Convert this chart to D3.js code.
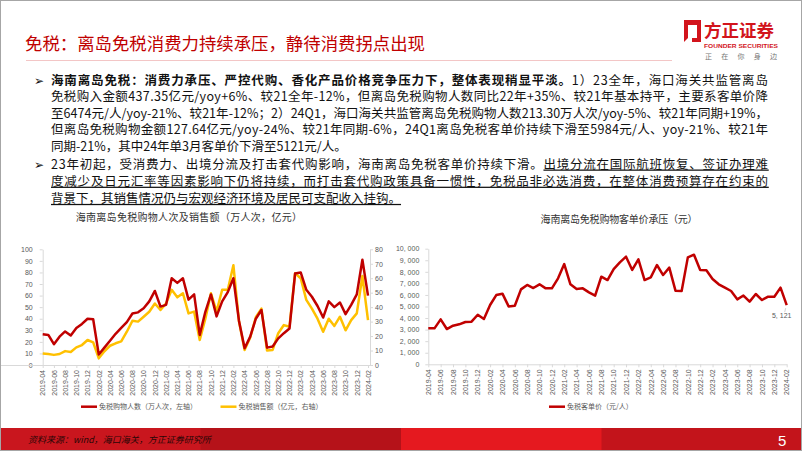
<!DOCTYPE html>
<html>
<head>
<meta charset="utf-8">
<script src="https://cdn.jsdelivr.net/npm/d3@7"></script>
<style>
  body { margin: 0; background: #fff; }
  svg { display: block; font-family: "Noto Sans CJK SC", "Noto Sans", sans-serif; }
  .num { font-family: "Liberation Sans", Arial, sans-serif; }
</style>
</head>
<body>
<div id="slide"></div>
<script>
// categories: monthly, 2019-04 .. 2024-02
const months = d3.timeMonth.range(new Date(2019, 3, 1), new Date(2024, 2, 1)).map(d3.timeFormat("%Y-%m"));

// 免税购物人数（万人次，左轴）
const shoppers = [26.5, 26, 18, 24.5, 29, 25.5, 32, 35.5, 40, 39.5,
  9, 15, 21, 27, 32, 37, 44.5, 45.5, 49, 55,
  64, 50.5, 52, 75, 71, 75, 56.5, 61, 26, 46,
  61, 42, 55, 63, 75, 38, 14.5, 24.5, 40, 47.5,
  15, 16, 23, 27.5, 31.5, 79, 80, 65, 59, 51,
  41, 55, 50, 54, 44, 52, 61, 91, 60];

// 免税销售额（亿元，右轴）
const sales = [8, 7.6, 7, 7.6, 9.6, 9, 12.2, 13.8, 17.3, 15.7,
  4.6, 9.5, 13.3, 15, 16.3, 23, 30.6, 30, 33.4, 36.8,
  42.5, 38, 42.6, 52, 46.8, 49.6, 35.7, 36.9, 17.3, 32,
  49.6, 37, 52, 52, 69, 30, 10.4, 19, 33, 39,
  10, 10.4, 22, 27.6, 26.5, 63.4, 60, 45, 39, 32,
  23, 32, 27, 33.4, 24, 31, 35.7, 61.5, 31];

// 免税客单价（元/人）
const price = [3110, 3110, 3890, 3050, 3340, 3460, 3660, 3690, 4290, 3920,
  5130, 5990, 6110, 5010, 5070, 6480, 6860, 6600, 6920, 6570,
  6570, 7440, 8670, 6920, 6510, 6570, 6220, 5940, 7580, 7290,
  8240, 8820, 9310, 8160, 9080, 7290, 7520, 8590, 7720, 8360,
  6370, 6340, 9250, 9480, 8160, 8130, 7380, 6920, 6630, 6340,
  5620, 5950, 5420, 6080, 5560, 5850, 5850, 6630, 5121];

const leftTicks = d3.range(0, 101, 10);
const rightTicks = d3.range(0, 81, 10);
const priceTicks = d3.range(0, 10001, 1000);
const monthTicks = months.filter((m, i) => i % 2 === 0);

const title = "免税：离岛免税消费力持续承压，静待消费拐点出现";
const para1 = [
  [{t: "海南离岛免税：消费力承压、严控代购、香化产品价格竞争压力下，整体表现稍显平淡。", b: true}, {t: "1）23全年，海口海关共监管离岛"}],
  [{t: "免税购入金额437.35亿元/yoy+6%、较21全年-12%，但离岛免税购物人数同比22年+35%、较21年基本持平，主要系客单价降"}],
  [{t: "至6474元/人/yoy-21%、较21年-12%；2）24Q1，海口海关共监管离岛免税购物人数213.30万人次/yoy-5%、较21年同期+19%，"}],
  [{t: "但离岛免税购物金额127.64亿元/yoy-24%、较21年同期-6%，24Q1离岛免税客单价持续下滑至5984元/人、yoy-21%、较21年"}],
  [{t: "同期-21%，其中24年单3月客单价下滑至5121元/人。"}]
];
const para2 = [
  [{t: "23年初起，受消费力、出境分流及打击套代购影响，海南离岛免税客单价持续下滑。"}, {t: "出境分流在国际航班恢复、签证办理难", u: true}],
  [{t: "度减少及日元汇率等因素影响下仍将持续，而打击套代购政策具备一惯性，免税品非必选消费，在整体消费预算存在约束的", u: true}],
  [{t: "背景下，其销售情况仍与宏观经济环境及居民可支配收入挂钩。", u: true}]
];

const RED = "#c00000", GOLD = "#ffc000", AXIS = "#d9d9d9", LABEL = "#595959";

const W = 802, H = 451;
const svg = d3.select("#slide").append("svg").attr("width", W).attr("height", H);
svg.append("rect").attr("width", W).attr("height", H).attr("fill", "#fff");

/* header */
svg.append("text").attr("x", 25).attr("y", 50).attr("fill", RED)
  .style("font-size", "17.4px").text(title);
svg.append("line").attr("x1", 26).attr("x2", 672).attr("y1", 60.5).attr("y2", 60.5)
  .attr("stroke", "#f3c6c6").attr("stroke-width", 1);

const logo = svg.append("g");
logo.append("path")
  .attr("d", "M684,20 H701 V42 H684 Z M688,25 V38 H697 V25 Z")
  .attr("fill", "#d2141c").attr("fill-rule", "evenodd");
logo.append("path").attr("d", "M684,42 L692,34 L692,42 Z").attr("fill", "#fff");
logo.append("text").attr("x", 704).attr("y", 37).attr("fill", "#d2141c")
  .attr("font-weight", 700).style("font-size", "17.5px").text("方正证券");
logo.append("text").attr("x", 704).attr("y", 47.5).attr("fill", "#d2141c")
  .attr("font-weight", 700).attr("class", "num").style("font-size", "6px")
  .attr("textLength", 74).attr("lengthAdjust", "spacingAndGlyphs").text("FOUNDER SECURITIES");
logo.append("text").attr("x", 705).attr("y", 59).attr("fill", "#777")
  .style("font-size", "7px").attr("textLength", 72).text("正在你身边");

/* bullet paragraphs */
function textLine(g, parts, x, y, width) {
  const t = g.append("text").attr("x", x).attr("y", y);
  parts.forEach(p => {
    const s = t.append("tspan").text(p.t);
    if (p.b) s.attr("font-weight", 700);
    if (p.u) s.style("text-decoration", "underline");
  });
  if (width) {
    const n = parts.reduce((a, p) => a + [...p.t].length, 0);
    const natural = t.node().getComputedTextLength();
    t.style("letter-spacing", ((width - natural) / (n - 1)) + "px");
  }
  return t;
}

const body = svg.append("g").attr("fill", "#111").style("font-size", "12.5px");
[[para1, 84.5, 16.6], [para2, 168.5, 17.2]].forEach(([para, y0, lh]) => {
  body.append("text").attr("x", 34).attr("y", y0).style("font-family", "DejaVu Sans")
    .style("font-size", "12px").text("➢");
  para.forEach((parts, i) => {
    textLine(body, parts, 51, y0 + i * lh, i < para.length - 1 ? 717 : null);
  });
});

/* axes helper */
function styleAxis(g) {
  g.selectAll(".domain").attr("stroke", AXIS);
  g.selectAll(".tick line").attr("stroke", AXIS);
  g.selectAll(".tick text").attr("fill", LABEL).attr("class", "num").style("font-size", "7px");
}
function monthAxis(g, x, y) {
  const ax = g.append("g").attr("transform", `translate(0,${y})`)
    .call(d3.axisBottom(x).tickValues(monthTicks).tickSize(3).tickSizeOuter(0));
  styleAxis(ax);
  ax.selectAll(".tick text")
    .attr("transform", "rotate(-90)").attr("text-anchor", "end")
    .attr("x", -5).attr("y", 0).attr("dy", "0.32em");
  return ax;
}
function legendItem(g, x, y, color, label) {
  g.append("line").attr("x1", x).attr("x2", x + 16).attr("y1", y).attr("y2", y)
    .attr("stroke", color).attr("stroke-width", 2.5);
  g.append("text").attr("x", x + 18).attr("y", y + 2.5).attr("fill", LABEL)
    .style("font-size", "7px").text(label);
}

/* left chart */
const c1 = svg.append("g");
const x1 = d3.scalePoint().domain(months).range([42.7, 368]);
const yL = d3.scaleLinear().domain([0, 100]).range([365, 249.3]);
const yR = d3.scaleLinear().domain([0, 80]).range([365, 249.3]);

c1.append("text").attr("x", 189).attr("y", 221).attr("text-anchor", "middle")
  .attr("fill", "#333").style("font-size", "10px").style("letter-spacing", "0.3px")
  .text("海南离岛免税购物人次及销售额（万人次，亿元）");

styleAxis(c1.append("g").attr("transform", "translate(42.7,0)")
  .call(d3.axisLeft(yL).tickValues(leftTicks).tickSizeInner(3).tickSizeOuter(0).tickPadding(7)));
styleAxis(c1.append("g").attr("transform", "translate(370,0)")
  .call(d3.axisRight(yR).tickValues(rightTicks).tickSizeInner(3).tickSizeOuter(0).tickPadding(2)));
monthAxis(c1, x1, 365).select(".domain").attr("d", "M0,0.5H370");

c1.append("path").datum(sales)
  .attr("fill", "none").attr("stroke", GOLD).attr("stroke-width", 2.5).attr("stroke-linejoin", "round")
  .attr("d", d3.line().x((d, i) => x1(months[i])).y(d => yR(d)));
c1.append("path").datum(shoppers)
  .attr("fill", "none").attr("stroke", RED).attr("stroke-width", 2.5).attr("stroke-linejoin", "round")
  .attr("d", d3.line().x((d, i) => x1(months[i])).y(d => yL(d)));

legendItem(c1, 81, 406.7, RED, "免税购物人数（万人次，左轴）");
legendItem(c1, 220.5, 406.7, GOLD, "免税销售额（亿元，右轴）");

/* right chart */
const c2 = svg.append("g");
const x2 = d3.scalePoint().domain(months).range([428.3, 786.7]);
const y2 = d3.scaleLinear().domain([0, 10000]).range([364.3, 248.7]);
const fmt = d => d3.format(",")(d).replace(",", ", ");

c2.append("text").attr("x", 619).attr("y", 223).attr("text-anchor", "middle")
  .attr("fill", "#333").style("font-size", "10px").style("letter-spacing", "-0.2px")
  .text("海南离岛免税购物客单价承压（元）");

styleAxis(c2.append("g").attr("transform", "translate(428.3,0)")
  .call(d3.axisLeft(y2).tickValues(priceTicks).tickFormat(fmt).tickSizeInner(3).tickSizeOuter(0).tickPadding(6)));
monthAxis(c2, x2, 364.3);

c2.append("path").datum(price)
  .attr("fill", "none").attr("stroke", RED).attr("stroke-width", 2.5).attr("stroke-linejoin", "round")
  .attr("d", d3.line().x((d, i) => x2(months[i])).y(d => y2(d)));

const lastI = price.length - 1;
const lx = x2(months[lastI]), ly = y2(price[lastI]);
c2.append("line").attr("x1", lx - 1).attr("y1", ly + 3).attr("x2", lx - 2).attr("y2", ly + 7)
  .attr("stroke", "#bfbfbf").attr("stroke-width", 0.7);
c2.append("text").attr("x", lx - 5).attr("y", ly + 13).attr("text-anchor", "middle")
  .attr("fill", LABEL).attr("class", "num").style("font-size", "7px").text(fmt(price[lastI]));

legendItem(c2, 549, 406.7, RED, "免税客单价（元/人）");

/* footer */
const bands = ["#c9161e", "#b51219", "#e5191f", "#c3141b"];
svg.append("g").selectAll("rect").data(bands).join("rect")
  .attr("x", (d, i) => i * W / 4).attr("y", 428).attr("width", W / 4 + 0.5).attr("height", H - 428)
  .attr("fill", d => d);
svg.append("text").attr("x", 28).attr("y", 443).attr("fill", "#2a0606")
  .style("font-size", "9px").style("font-style", "italic")
  .text("资料来源：wind，海口海关，方正证券研究所");
svg.append("text").attr("x", 778).attr("y", 446).attr("fill", "#fff").attr("class", "num")
  .style("font-size", "15px").text("5");

svg.append("rect").attr("x", 0.5).attr("y", 0.5).attr("width", W - 1).attr("height", H - 1)
  .attr("fill", "none").attr("stroke", "#a6a6a6");
</script>
</body>
</html>
